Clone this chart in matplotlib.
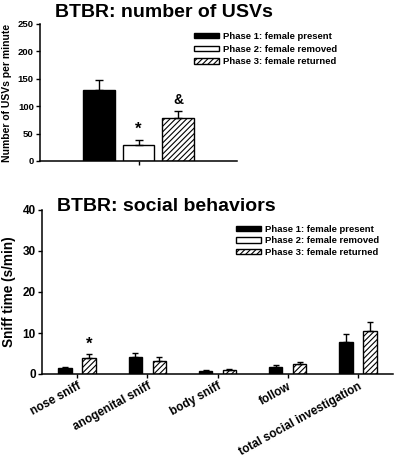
import matplotlib
matplotlib.use("Agg")
import matplotlib.pyplot as plt
from matplotlib.patches import Patch
import numpy as np

plt.rcParams['font.family'] = ['Liberation Sans', 'DejaVu Sans']
plt.rcParams['font.weight'] = 'bold'
plt.rcParams['hatch.linewidth'] = 0.8

# ---- data ----
phases = ["Phase 1: female present", "Phase 2: female removed", "Phase 3: female returned"]
usv_means = [129, 29, 79]
usv_err = [19, 10, 13]
usv_marks = ["", "*", "&"]

behaviors = ["nose sniff", "anogenital sniff", "body sniff", "follow", "total social investigation"]
p1_means = [1.4, 4.2, 0.7, 1.6, 7.7]
p1_err = [0.3, 1.0, 0.2, 0.6, 2.1]
p3_means = [3.8, 3.2, 1.0, 2.4, 10.6]
p3_err = [1.2, 0.9, 0.3, 0.6, 2.0]
p3_marks = ["*", "", "", "", ""]

usv_ticks = [0, 50, 100, 150, 200, 250]
sniff_ticks = [0, 10, 20, 30, 40]

W, H = 397, 459
fig = plt.figure(figsize=(W / 100, H / 100), dpi=100)

styles = [dict(facecolor='black', edgecolor='black', hatch=None),
          dict(facecolor='white', edgecolor='black', hatch=None),
          dict(facecolor='white', edgecolor='black', hatch='//////')]

def style_axes(ax):
    for s in ['top', 'right']:
        ax.spines[s].set_visible(False)
    for s in ['left', 'bottom']:
        ax.spines[s].set_linewidth(1.1)
    ax.tick_params(axis='both', direction='out', width=1.0, length=3, pad=1.5)

# ---- top panel ----
ax1 = fig.add_axes([40 / W, 1 - 161 / H, 197 / W, 137 / H])
xs = np.array([-1, 0, 1])
for i in range(3):
    ax1.bar(xs[i], usv_means[i], width=0.8, linewidth=1.0, **styles[i])
    ax1.errorbar(xs[i], usv_means[i], yerr=[[0], [usv_err[i]]], fmt='none',
                 ecolor='black', elinewidth=1.0, capsize=3, capthick=1.0)
    if usv_marks[i]:
        ax1.text(xs[i], usv_means[i] + usv_err[i] + 6, usv_marks[i], ha='center',
                 va='bottom', fontsize=12 if usv_marks[i] == '*' else 10, fontweight='bold')
ax1.set_xlim(-2.5, 2.5)
ax1.set_ylim(0, 250)
ax1.set_yticks(usv_ticks)
ax1.set_xticks([0])
ax1.set_xticklabels([''])
style_axes(ax1)
ax1.tick_params(axis='y', labelsize=6.8)
ax1.set_ylabel("Number of USVs per minute", fontsize=7.5, fontweight='bold', labelpad=4)
fig.text(55 / W, 1 - 17 / H, "BTBR: number of USVs", fontsize=14, fontweight='bold',
         ha='left', va='baseline')

handles = [Patch(label=phases[i], linewidth=1.0, **styles[i]) for i in range(3)]
fig.legend(handles=handles, loc='upper left', bbox_to_anchor=(194 / W, 1 - 32 / H),
           frameon=False, prop=dict(size=6.8, weight='bold'), handlelength=2.6,
           handleheight=0.5, handletextpad=0.45, labelspacing=0.38, borderaxespad=0,
           borderpad=0)

# ---- bottom panel ----
ax2 = fig.add_axes([42 / W, 1 - 374 / H, 351 / W, 164 / H])
xc = np.arange(len(behaviors))
off = 0.17
bw = 0.19
ax2.bar(xc - off, p1_means, width=bw, linewidth=1.0, **styles[0])
ax2.bar(xc + off, p3_means, width=bw, linewidth=1.0, **styles[2])
ax2.errorbar(xc - off, p1_means, yerr=[np.zeros(len(xc)), p1_err], fmt='none',
             ecolor='black', elinewidth=1.0, capsize=2, capthick=1.0)
ax2.errorbar(xc + off, p3_means, yerr=[np.zeros(len(xc)), p3_err], fmt='none',
             ecolor='black', elinewidth=1.0, capsize=2, capthick=1.0)
for i, m in enumerate(p3_marks):
    if m:
        ax2.text(xc[i] + off, p3_means[i] + p3_err[i] + 0.4, m, ha='center', va='bottom',
                 fontsize=12, fontweight='bold')
ax2.set_xlim(-0.5, len(behaviors) - 0.5)
ax2.set_ylim(0, 40)
ax2.set_yticks(sniff_ticks)
ax2.set_xticks(xc)
ax2.set_xticklabels(behaviors, rotation=29, ha='right', rotation_mode='anchor',
                    fontsize=8.5, fontweight='bold')
style_axes(ax2)
ax2.tick_params(axis='y', labelsize=8.5)
ax2.set_ylabel("Sniff time (s/min)", fontsize=9.8, fontweight='bold', labelpad=5)
fig.text(57 / W, 1 - 211 / H, "BTBR: social behaviors", fontsize=14, fontweight='bold',
         ha='left', va='baseline')

fig.legend(handles=handles, loc='upper left', bbox_to_anchor=(236 / W, 1 - 225 / H),
           frameon=False, prop=dict(size=6.8, weight='bold'), handlelength=2.6,
           handleheight=0.5, handletextpad=0.45, labelspacing=0.25, borderaxespad=0,
           borderpad=0)

fig.savefig("out.png", dpi=100)
